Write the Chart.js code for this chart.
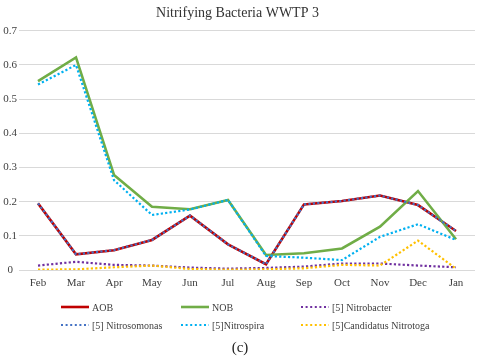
<!DOCTYPE html>
<html>
<head>
<meta charset="utf-8">
<script src="https://cdn.jsdelivr.net/npm/chart.js@4/dist/chart.umd.min.js"></script>
<style>
    body { margin: 0; background: #fff; }
    #wrap { position: relative; width: 480px; height: 358px; font-family: "Liberation Serif", "DejaVu Serif", serif; }
    #chart { position: absolute; left: 0; top: 0; }
    .legend-item { position: absolute; height: 14px; display: flex; align-items: center; font-size: 10px; color: #404040; white-space: nowrap; }
    .legend-item canvas { margin-right: 3px; }
    #caption { position: absolute; left: 0; width: 480px; top: 339px; text-align: center; font-size: 15px; color: #222; }
</style>
</head>
<body>
<div id="wrap">
    <canvas id="chart" width="480" height="358"></canvas>
    <div id="legend"></div>
    <div id="caption">(c)</div>
</div>
<script>
// ===== DATA =====
const MONTHS = ['Feb', 'Mar', 'Apr', 'May', 'Jun', 'Jul', 'Aug', 'Sep', 'Oct', 'Nov', 'Dec', 'Jan'];
const Y_TICKS = [0, 0.1, 0.2, 0.3, 0.4, 0.5, 0.6, 0.7];

const AOB          = [0.195, 0.046, 0.058, 0.088, 0.159, 0.075, 0.017, 0.192, 0.202, 0.218, 0.190, 0.114];
const NOB          = [0.553, 0.622, 0.278, 0.185, 0.178, 0.205, 0.044, 0.049, 0.063, 0.127, 0.231, 0.090];
const NITROBACTER  = [0.013, 0.024, 0.015, 0.013, 0.007, 0.004, 0.006, 0.010, 0.019, 0.019, 0.013, 0.008];
const NITROSOMONAS = [0.195, 0.046, 0.058, 0.088, 0.159, 0.075, 0.017, 0.192, 0.202, 0.218, 0.190, 0.114];
const NITROSPIRA   = [0.543, 0.600, 0.263, 0.161, 0.177, 0.205, 0.041, 0.036, 0.029, 0.097, 0.134, 0.088];
const NITROTOGA    = [0.001, 0.002, 0.008, 0.013, 0.003, 0.001, 0.002, 0.005, 0.015, 0.013, 0.086, 0.004];

const SERIES_NAMES = ['AOB', 'NOB', '[5] Nitrobacter', '[5] Nitrosomonas', '[5]Nitrospira', '[5]Candidatus Nitrotoga'];
const SERIES_COLORS = ['#c00000', '#70ad47', '#7030a0', '#4472c4', '#00b0f0', '#ffc000'];

// ===== CHART =====
const DOT = [2.2, 2.2];
const seriesData = [AOB, NOB, NITROBACTER, NITROSOMONAS, NITROSPIRA, NITROTOGA];
const dashed = [false, false, true, true, true, true];

const datasets = seriesData.map((values, i) => ({
    label: SERIES_NAMES[i],
    data: values,
    borderColor: SERIES_COLORS[i],
    backgroundColor: SERIES_COLORS[i],
    borderWidth: dashed[i] ? 2.2 : 2.6,
    borderDash: dashed[i] ? DOT : [],
    pointRadius: 0,
    tension: 0,
    fill: false
}));

// Draw order like the original: AOB, NOB, then dotted ones on top
datasets.forEach((d, i) => { d.order = 10 - i; });

const serif = '"Liberation Serif", "DejaVu Serif", serif';

new Chart(document.getElementById('chart'), {
    type: 'line',
    data: { labels: MONTHS, datasets: datasets },
    options: {
        responsive: false,
        animation: false,
        layout: { padding: { left: 0, right: 5, top: 0, bottom: 63 } },
        plugins: {
            legend: { display: false },
            tooltip: { enabled: false },
            title: {
                display: true,
                text: 'Nitrifying Bacteria WWTP 3',
                color: '#333',
                font: { family: serif, size: 14, weight: 'normal' },
                padding: { top: 5, bottom: 9 }
            }
        },
        scales: {
            x: {
                offset: true,
                afterFit: scale => { scale.height = 25; },
                grid: { display: false },
                border: { display: false },
                ticks: { color: '#404040', font: { family: serif, size: 11 }, padding: -1, maxRotation: 0, autoSkip: false }
            },
            y: {
                min: 0,
                max: 0.7,
                afterBuildTicks: scale => { scale.ticks = Y_TICKS.map(v => ({ value: v })); },
                afterFit: scale => { scale.width = 19; },
                grid: { color: '#d9d9d9', lineWidth: 1, drawTicks: false },
                border: { display: false },
                ticks: {
                    color: '#404040',
                    font: { family: serif, size: 11 },
                    padding: 2,
                    crossAlign: 'center',
                    callback: v => String(Math.round(v * 10) / 10)
                }
            }
        }
    }
});

// ===== LEGEND (3 columns x 2 rows) =====
const legendBox = document.getElementById('legend');
const LEG_COLS = [61, 181, 301];
const LEG_ROWS = [300, 318];
const legendOrder = [0, 1, 2, 3, 4, 5];
legendOrder.forEach((idx, k) => {
    const item = document.createElement('div');
    item.className = 'legend-item';
    item.style.left = LEG_COLS[k % 3] + 'px';
    item.style.top = LEG_ROWS[Math.floor(k / 3)] + 'px';

    const swatch = document.createElement('canvas');
    swatch.width = 28;
    swatch.height = 6;
    const c = swatch.getContext('2d');
    c.strokeStyle = SERIES_COLORS[idx];
    c.lineWidth = dashed[idx] ? 2 : 2.6;
    c.setLineDash(dashed[idx] ? [2, 2.6] : []);
    c.beginPath();
    c.moveTo(0, 3);
    c.lineTo(28, 3);
    c.stroke();

    const text = document.createElement('span');
    text.textContent = SERIES_NAMES[idx];

    item.appendChild(swatch);
    item.appendChild(text);
    legendBox.appendChild(item);
});
</script>
</body>
</html>
